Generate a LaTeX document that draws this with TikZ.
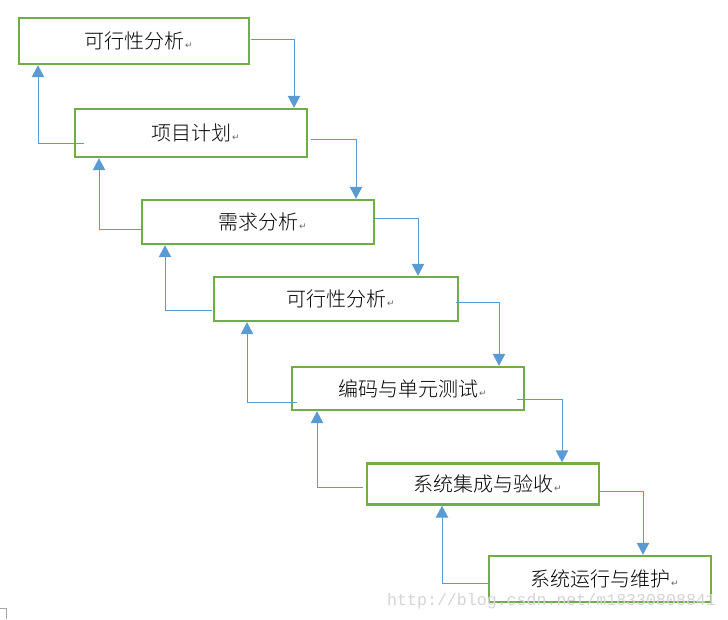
\documentclass[tikz,border=0pt]{standalone}
\usepackage{fontspec}
\usetikzlibrary{arrows.meta}
\newfontfamily\cjk{Noto Sans CJK SC Light}
\newfontfamily\symb{DejaVu Sans}
\setmonofont{Liberation Mono}
\definecolor{boxgreen}{HTML}{70AD47}
\definecolor{flowblue}{HTML}{5B9BD5}
\newcommand\pmk{\rlap{\kern1pt\symb\fontsize{9}{9}\selectfont\color{black!60}↵}}
\tikzset{
  stage/.style={draw=boxgreen, line width=2.4pt, inner sep=0pt,
    font=\cjk\fontsize{20}{20}\selectfont},
  flow/.style={draw=flowblue, line width=1pt, -{Triangle[width=12.5pt,length=12pt]}},
}

\begin{document}
\begin{tikzpicture}[x=1pt,y=-1pt]
			%%%%% START %%%%%
			\useasboundingbox (0,0) rectangle (728,619);

			\node[stage, minimum width=230pt, minimum height=46pt] (s1) at (134,41) {可行性分析\pmk};
			\node[stage, minimum width=232pt, minimum height=48pt] (s2) at (191,133) {项目计划\pmk};
			\node[stage, minimum width=232pt, minimum height=44pt] (s3) at (258,222) {需求分析\pmk};
			\node[stage, minimum width=244pt, minimum height=44pt] (s4) at (336,299) {可行性分析\pmk};
			\node[stage, minimum width=232pt, minimum height=43pt] (s5) at (408,388.5) {编码与单元测试\pmk};
			\node[stage, minimum width=232pt, minimum height=41pt] (s6) at (483,484) {系统集成与验收\pmk};
			\node[stage, minimum width=222pt, minimum height=46pt] (s7) at (600,579) {系统运行与维护\pmk};

			% down the right side
			\foreach \i/\j/\y/\xs/\xt in {1/2/39/251/294, 2/3/139/311/356, 3/4/218/375/418,
				4/5/302/456/499, 5/6/399/517/562, 6/7/491/600/643}{
				\coordinate (o\i) at (\xs,\y);
				\coordinate (d\i) at (\xt,\y);
				\draw[flow] (o\i) -- (d\i) -- (d\i |- s\j.north);
			}

			% back up the left side
			\foreach \i/\j/\y/\xs/\xt in {2/1/143/84/38, 3/2/229/143/99, 4/3/310/212/165,
				5/4/402/297/247, 6/5/487/363/317, 7/6/583/489/442}{
				\coordinate (i\i) at (\xs,\y);
				\coordinate (u\i) at (\xt,\y);
				\draw[flow] (i\i) -- (u\i) -- (u\i |- s\j.south);
			}

			\node[anchor=base west, inner sep=0pt, text=black!17,
				font=\ttfamily\fontsize{16.6}{16.6}\selectfont] (wm) at (387,605) {http://blog.csdn.net/m18330808841};
			\draw[black!35, line width=0.8pt] (0,608) -- (6,608) -- (6,619);
			%%%%% END %%%%%
\end{tikzpicture}
\end{document}
